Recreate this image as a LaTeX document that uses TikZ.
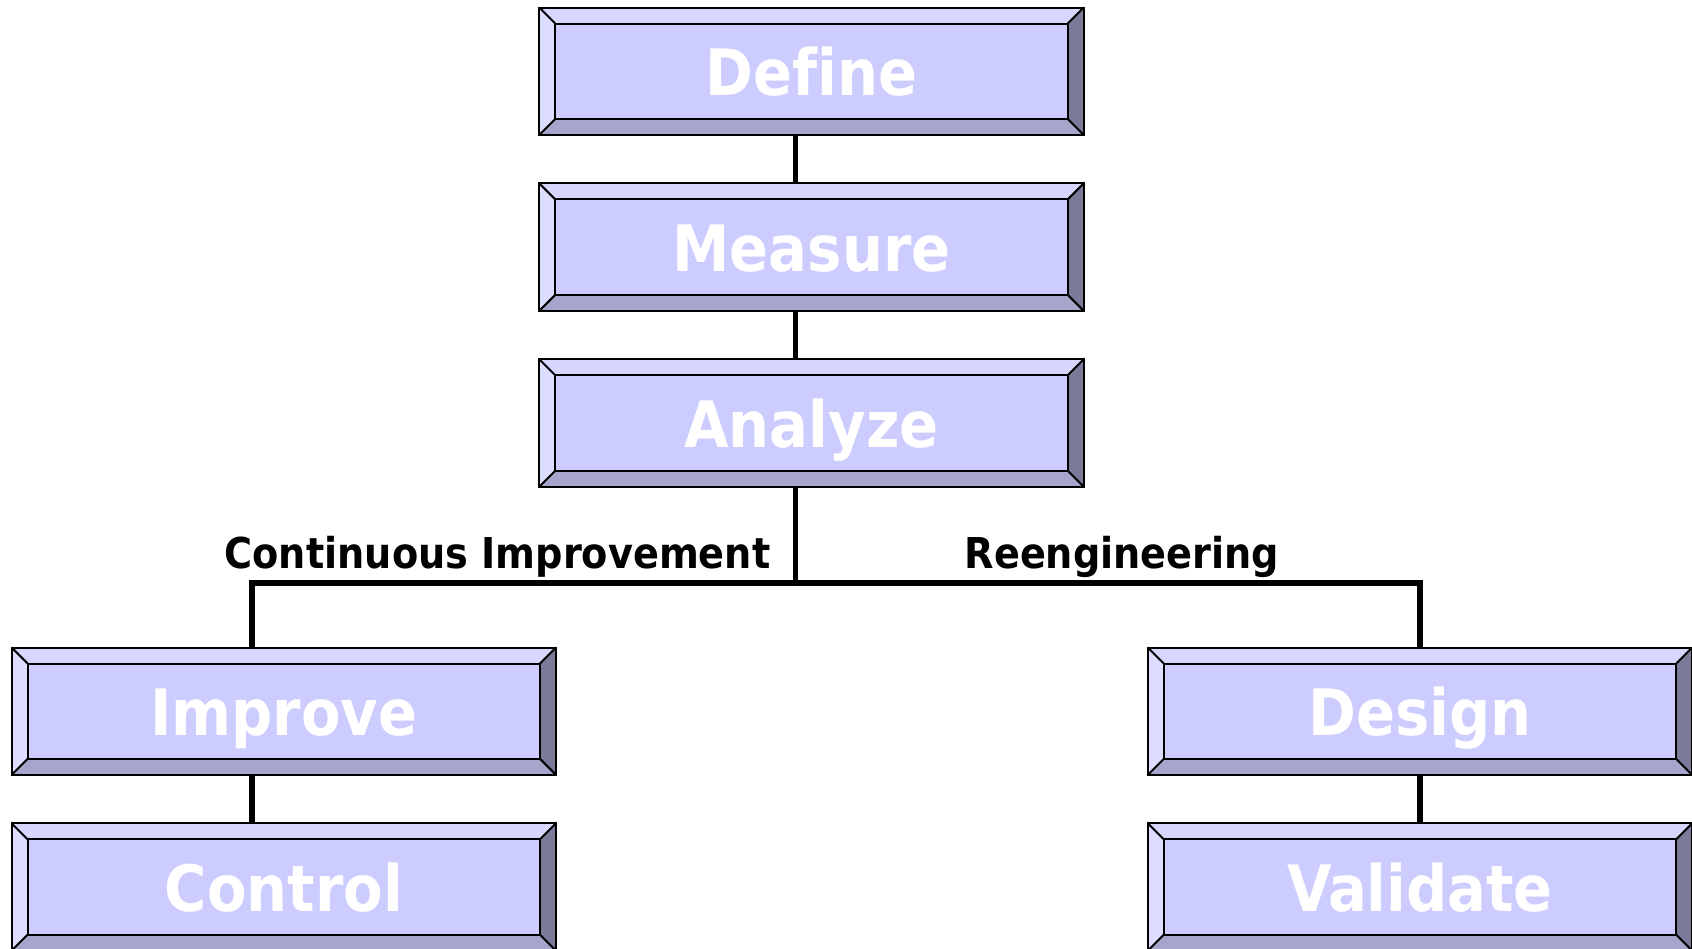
\documentclass[tikz,border=0pt]{standalone}
\usepackage{fontspec}
\usetikzlibrary{calc}
\newfontfamily\diafont{DejaVu Sans Condensed}[Ligatures=NoCommon]
\definecolor{faceC}{HTML}{CCCCFF}
\definecolor{topC}{HTML}{D6D6FF}
\definecolor{leftC}{HTML}{DDDDFF}
\definecolor{bottomC}{HTML}{A6A6CC}
\definecolor{rightC}{HTML}{7A7A99}
\tikzset{
  boxcore/.style={rectangle, minimum width=544pt, minimum height=127pt, inner sep=0pt, fill=faceC},
  edgeline/.style={draw=black, line width=2pt, line join=miter},
  boxlabel/.style={anchor=base, inner sep=0pt, text=white, font=\diafont\bfseries\fontsize{64}{72}\selectfont},
  branchlabel/.style={anchor=base, inner sep=0pt, text=black, font=\diafont\bfseries\fontsize{42.5}{48}\selectfont},
  conn/.style={draw=black, line width=5.5pt}
}
% bevelled box: name, centre x, centre y, caption
\newcommand\bevbox[4]{%
  \node[boxcore] (#1) at (#2,#3) {};
  \coordinate (#1-a) at ($(#1.north west)+(16,16)$);
  \coordinate (#1-b) at ($(#1.north east)+(-16,16)$);
  \coordinate (#1-c) at ($(#1.south east)+(-16,-16)$);
  \coordinate (#1-d) at ($(#1.south west)+(16,-16)$);
  \fill[topC] (#1.north west) -- (#1.north east) -- (#1-b) -- (#1-a) -- cycle;
  \fill[leftC] (#1.north west) -- (#1-a) -- (#1-d) -- (#1.south west) -- cycle;
  \fill[bottomC] (#1.south west) -- (#1-d) -- (#1-c) -- (#1.south east) -- cycle;
  \fill[rightC] (#1.north east) -- (#1.south east) -- (#1-c) -- (#1-b) -- cycle;
  \draw[edgeline] (#1.north west) rectangle (#1.south east);
  \draw[edgeline] (#1-a) rectangle (#1-c);
  \draw[edgeline] (#1.north west) -- (#1-a) (#1.north east) -- (#1-b)
                  (#1.south east) -- (#1-c) (#1.south west) -- (#1-d);
  \node[boxlabel] (#1-t) at ($(#1.center)+(0,24)$) {#4};
}
\begin{document}
\begin{tikzpicture}[x=1pt,y=-1pt]
\useasboundingbox (0,0) rectangle (1692,948);

% main chain
\bevbox{define}{811.5}{71.3}{Define}
\bevbox{measure}{811.5}{247.1}{Measure}
\bevbox{analyze}{811.5}{423}{Analyze}

% two branches
\bevbox{improve}{283.8}{711.2}{Improve}
\bevbox{control}{283.8}{887}{Control}
\bevbox{design}{1420}{711.2}{Design}
\bevbox{validate}{1420}{887}{Validate}

% junction of the branch bar
\coordinate (split) at ($(analyze.south)+(-16,96.3)$);

% connectors
\draw[conn] ([xshift=-16pt]define.south) -- ([xshift=-16pt]measure.north);
\draw[conn] ([xshift=-16pt]measure.south) -- ([xshift=-16pt]analyze.north);
\draw[conn] ([xshift=-16pt]analyze.south) -- (split);
\draw[conn, line join=miter] ([xshift=-32pt]improve.north) |- (split) -| (design.north);
\draw[conn] ([xshift=-32pt]improve.south) -- ([xshift=-32pt]control.north);
\draw[conn] (design.south) -- (validate.north);

% branch captions
\node[branchlabel] (cilabel) at (497.5,568.7) {Continuous Improvement};
\node[branchlabel] (relabel) at (1122,568.7) {Reengineering};
\end{tikzpicture}
\end{document}
